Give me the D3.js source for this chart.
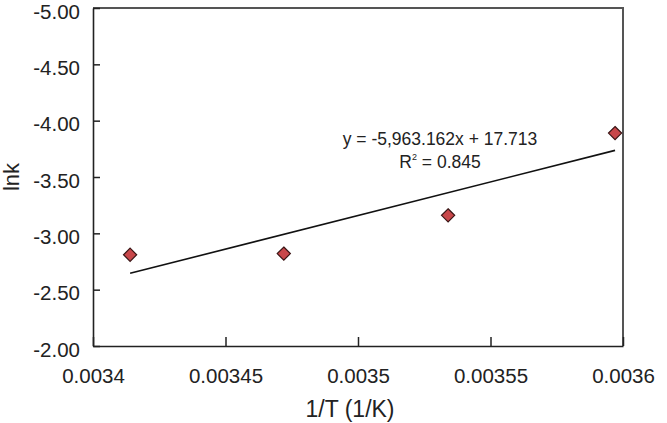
<!DOCTYPE html>
<html><head><meta charset="utf-8">
<script src="https://cdn.jsdelivr.net/npm/d3@7"></script>
<style>body{margin:0;background:#fff;} text{font-family:"Liberation Sans",Arial,sans-serif;fill:#222;}</style>
</head><body>
<svg id="c" width="667" height="423"></svg>
<script>
const invT = [0.003414, 0.003472, 0.003534, 0.003597];
const lnk = [-2.81, -2.82, -3.16, -3.89];
const xTicks = [0.0034, 0.00345, 0.0035, 0.00355, 0.0036];
const xTickLabels = ["0.0034", "0.00345", "0.0035", "0.00355", "0.0036"];
const yTicks = [-5, -4.5, -4, -3.5, -3, -2.5, -2];
const yTickLabels = ["-5.00", "-4.50", "-4.00", "-3.50", "-3.00", "-2.50", "-2.00"];
const slope = -5963.162, intercept = 17.713, r2 = "0.845";
const eqText = "y = -5,963.162x + 17.713";

const svg = d3.select("#c");
const L = 93, R = 623, T = 8, B = 346;
const x = d3.scaleLinear().domain([0.0034, 0.0036]).range([L, R]);
const y = d3.scaleLinear().domain([-5, -2]).range([T, B]);

// frame top/right
svg.append("path").attr("d", `M${L},${T}H${R}V${B}`).attr("fill", "none").attr("stroke", "#555").attr("stroke-width", 2);

// axes
const xAxis = d3.axisBottom(x).tickValues(xTicks).tickSizeInner(-9).tickSizeOuter(0).tickFormat((d, i) => xTickLabels[i]).tickPadding(0);
const gx = svg.append("g").attr("transform", `translate(0,${B})`).call(xAxis);
gx.select(".domain").attr("stroke", "#222").attr("stroke-width", 1.6);
gx.selectAll(".tick line").attr("stroke", "#222").attr("stroke-width", 1.5);
gx.selectAll(".tick text").attr("font-size", 20.5).attr("dy", null).attr("y", 37).attr("fill", "#222");

const yAxis = d3.axisLeft(y).tickValues(yTicks).tickSizeInner(-7).tickSizeOuter(0).tickFormat((d, i) => yTickLabels[i]).tickPadding(0);
const gy = svg.append("g").attr("transform", `translate(${L},0)`).call(yAxis);
gy.select(".domain").attr("stroke", "#222").attr("stroke-width", 1.6);
gy.selectAll(".tick line").attr("stroke", "#222").attr("stroke-width", 1.5);
gy.selectAll(".tick text").attr("font-size", 20.5).attr("x", -13).attr("dy", "0.5em").attr("fill", "#222");
svg.selectAll(".tick text").style("font-family", "'Liberation Sans', Arial, sans-serif");

// trendline
const x0 = d3.min(invT), x1 = d3.max(invT);
svg.append("line")
  .attr("x1", x(x0)).attr("y1", y(slope * x0 + intercept))
  .attr("x2", x(x1)).attr("y2", y(slope * x1 + intercept))
  .attr("stroke", "#111").attr("stroke-width", 1.6);

// points
const sym = d3.symbol().type(d3.symbolDiamond2).size(110);
svg.selectAll(".pt").data(invT).enter().append("path")
  .attr("class", "pt")
  .attr("d", sym)
  .attr("transform", (d, i) => `translate(${x(d)},${y(lnk[i])})`)
  .attr("fill", "#c8474a").attr("stroke", "#3a1515").attr("stroke-width", 1.2);

// equation
svg.append("text").attr("x", 440).attr("y", 145).attr("text-anchor", "middle").attr("font-size", 17.5).text(eqText);
const rt = svg.append("text").attr("x", 440).attr("y", 168).attr("text-anchor", "middle").attr("font-size", 17.5);
rt.append("tspan").text("R");
rt.append("tspan").attr("font-size", 9).attr("dy", -8).text("2");
rt.append("tspan").attr("dy", 8).text(" = " + r2);

// titles
svg.append("text").attr("x", 350).attr("y", 417).attr("text-anchor", "middle").attr("font-size", 23).text("1/T (1/K)");
svg.append("text").attr("transform", "translate(19,177) rotate(-90)").attr("text-anchor", "middle").attr("font-size", 22).text("lnk");
</script>
</body></html>
